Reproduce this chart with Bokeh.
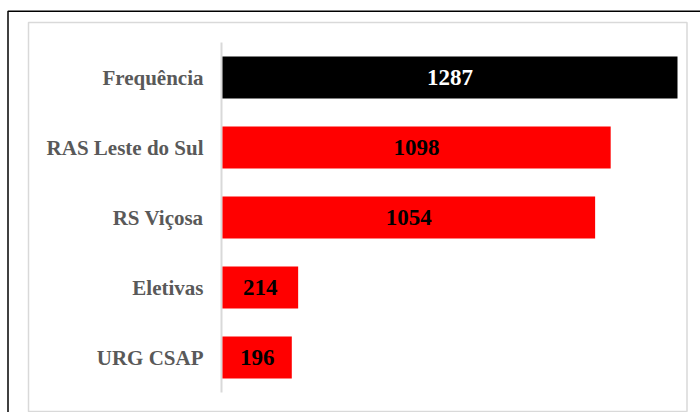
from bokeh.plotting import figure
from bokeh.models import ColumnDataSource, Range1d
from bokeh.core.properties import value
from bokeh.embed import file_html
from bokeh.resources import INLINE

categories = ["Frequência", "RAS Leste do Sul", "RS Viçosa", "Eletivas", "URG CSAP"]
counts = [1287, 1098, 1054, 214, 196]
bar_colors = ["#000000", "#ff0000", "#ff0000", "#ff0000", "#ff0000"]
label_colors = ["#ffffff", "#000000", "#000000", "#000000", "#000000"]

# ---- layout geometry (pixels) ----
W, H = 700, 412
AXIS_PX = 222          # x pixel of value 0
PX_PER_UNIT = 0.35354  # horizontal scale
ROW_PX = 70            # height of one category row
FIRST_ROW_PX = 77      # y pixel of the first row centre

x_start = -AXIS_PX / PX_PER_UNIT
x_end = (W - AXIS_PX) / PX_PER_UNIT
y_top = -FIRST_ROW_PX / ROW_PX
y_bottom = (H - FIRST_ROW_PX) / ROW_PX


def px_x(px):
    return x_start + px / PX_PER_UNIT


def px_y(py):
    return y_top + py / ROW_PX


idx = list(range(len(categories)))
src = ColumnDataSource(dict(
    y=idx,
    cat=categories,
    val=counts,
    half=[v / 2 for v in counts],
    txt=[str(v) for v in counts],
    color=bar_colors,
    tcolor=label_colors,
))

p = figure(
    width=W, height=H,
    x_range=Range1d(x_start, x_end), y_range=Range1d(y_bottom, y_top),
    x_axis_location=None, y_axis_location=None,
    output_backend="svg", toolbar_location=None,
    min_border=0,
)
p.outline_line_color = None
p.background_fill_color = "white"
p.border_fill_color = "white"
p.grid.visible = False

# borders
p.quad(left=[px_x(7.5)], right=[px_x(900)], top=[px_y(10.8)], bottom=[px_y(900)],
       fill_color=None, line_color="black", line_width=1.5)
p.quad(left=[px_x(28)], right=[px_x(686.5)], top=[px_y(22)], bottom=[px_y(411)],
       fill_color=None, line_color="#d9d9d9", line_width=1.5)

# category axis line
p.segment(x0=[px_x(AXIS_PX - 1)], x1=[px_x(AXIS_PX - 1)],
          y0=[px_y(42)], y1=[px_y(392)], line_color="#d9d9d9", line_width=2)

p.hbar(y="y", right="val", left=0, height=0.6, color="color", line_color=None, source=src)
p.text(x="half", y="y", text="txt", text_color="tcolor", source=src,
       text_align="center", text_baseline="middle",
       text_font=value("Liberation Serif"), text_font_style="bold",
       text_font_size="23px")

# category labels
p.text(x=px_x(203), y="y", text="cat", source=src,
       text_align="right", text_baseline="middle",
       text_font=value("Liberation Serif"), text_font_style="bold",
       text_font_size="21px", text_color="#595959")

open("out.html", "w").write(file_html(p, INLINE))
